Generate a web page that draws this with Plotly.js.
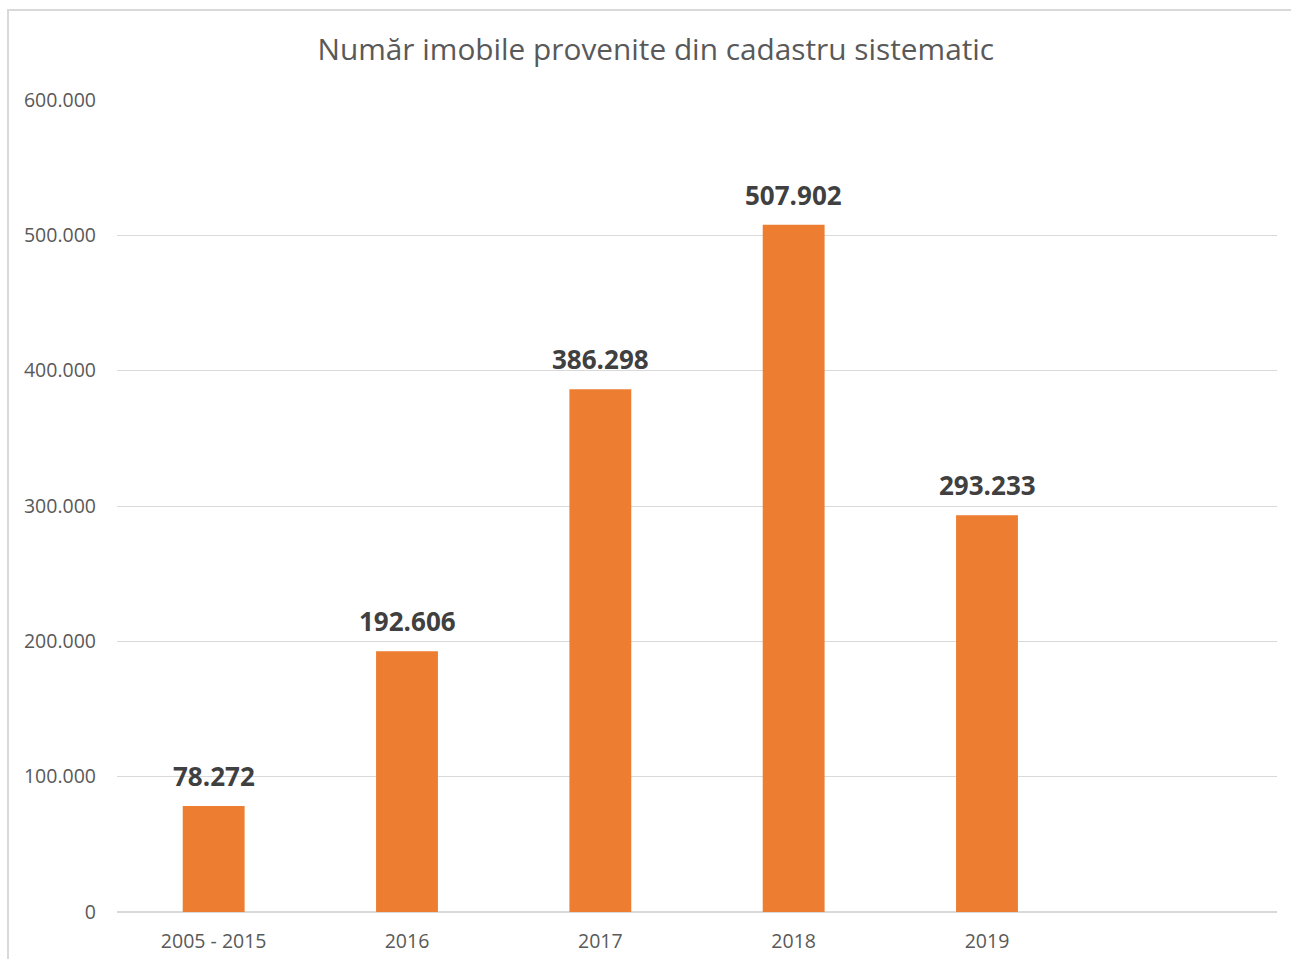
<!DOCTYPE html>
<html>
<head>
<meta charset="utf-8">
<script src="https://cdn.plot.ly/plotly-3.0.1.min.js"></script>
<style>
html,body{margin:0;padding:0;background:#fff;}
#chart{width:1291px;height:959px;position:absolute;left:0;top:0;}
#frame{position:absolute;left:7px;top:9px;width:1290px;height:960px;border-left:2px solid #d9d9d9;border-top:2px solid #d9d9d9;pointer-events:none;}
</style>
</head>
<body>
<div id="chart"></div>
<div id="frame"></div>
<script>
const categories = ['2005 - 2015', '2016', '2017', '2018', '2019'];
const values = [78272, 192606, 386298, 507902, 293233];
const valueLabels = ['78.272', '192.606', '386.298', '507.902', '293.233'];
const yTicks = [0, 100000, 200000, 300000, 400000, 500000, 600000];

const trace = {
  type: 'bar',
  x: categories,
  y: values,
  marker: {color: '#ED7D31'},
  hoverinfo: 'none'
};

const labelAnnotations = categories.map((c, i) => ({
  x: i,
  y: values[i],
  xref: 'x',
  yref: 'y',
  text: '<b>' + valueLabels[i] + '</b>',
  showarrow: false,
  xanchor: 'center',
  yanchor: 'bottom',
  yshift: 10,
  font: {family: 'Open Sans, sans-serif', size: 26, color: '#404040'}
}));

const layout = {
  width: 1291,
  height: 959,
  margin: {l: 117, r: 14, t: 100, b: 47},
  paper_bgcolor: '#ffffff',
  plot_bgcolor: '#ffffff',
  separators: ',.',
  showlegend: false,
  bargap: 0.68,
  annotations: labelAnnotations,
  title: {
    text: 'Număr imobile provenite din cadastru sistematic',
    font: {family: 'Open Sans, sans-serif', size: 29.8, color: '#595959'},
    x: 0.508, xanchor: 'center', y: 0.948, yanchor: 'middle'
  },
  xaxis: {
    type: 'category',
    range: [-0.5, 5.5],
    showgrid: false,
    showline: false,
    zeroline: false,
    ticks: '',
    ticklabelstandoff: 15,
    tickfont: {family: 'Open Sans, sans-serif', size: 19.5, color: '#595959'}
  },
  yaxis: {
    range: [0, 600000],
    tickvals: yTicks,
    tickformat: ',d',
    showgrid: true,
    gridcolor: '#d9d9d9',
    gridwidth: 1,
    zeroline: true,
    zerolinecolor: '#d9d9d9',
    zerolinewidth: 2,
    showline: false,
    ticks: '',
    ticklabelstandoff: 20,
    tickfont: {family: 'Open Sans, sans-serif', size: 19.5, color: '#595959'}
  }
};

Plotly.newPlot('chart', [trace], layout, {displayModeBar: false, staticPlot: true});
</script>
</body>
</html>
